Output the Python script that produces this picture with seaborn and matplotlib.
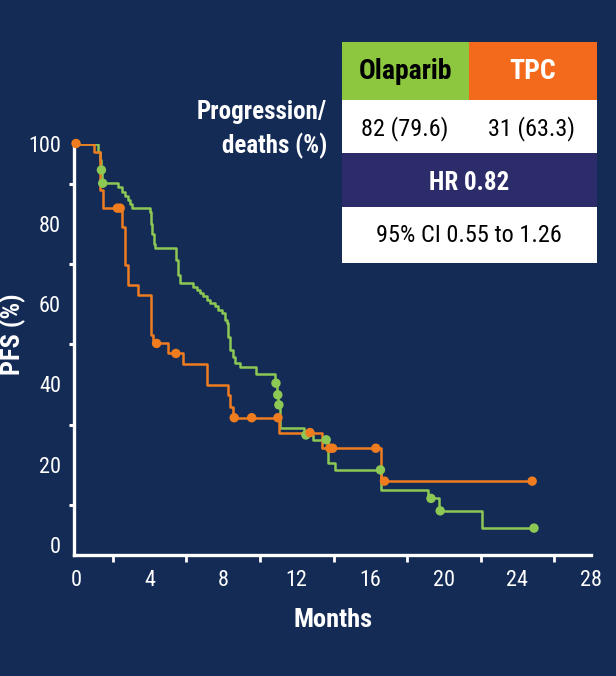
import numpy as np
import pandas as pd
import matplotlib
matplotlib.use("Agg")
import matplotlib.pyplot as plt
from matplotlib import font_manager
from matplotlib.patches import Rectangle
from matplotlib.ticker import MultipleLocator
import seaborn as sns

# ---------------- data ----------------
arms = ["Olaparib", "TPC"]
ola_months = [0, 1.2, 1.3, 1.35, 1.42, 2.3, 2.5, 2.65, 2.8, 2.95, 3.05, 4.02, 4.1, 4.15, 4.25, 4.3,
              5.45, 5.55, 5.65, 6.38, 6.56, 6.74, 6.92, 7.1, 7.28, 7.55, 7.74, 7.92, 8.1, 8.19, 8.28,
              8.37, 8.55, 8.64, 8.9, 9.8, 10.84, 10.93, 11.0, 11.08, 12.4, 12.9, 13.7, 14.08, 16.6,
              19.15, 19.72, 22.1, 24.9]
ola_pfs = [100, 98, 96, 93.4, 90.1, 89.1, 88.0, 86.9, 85.9, 84.9, 83.9, 82.9, 80.0, 77.5, 75.0, 73.9,
           71.0, 67.2, 65.2, 64.3, 63.5, 62.7, 61.9, 61.0, 60.2, 59.4, 58.5, 57.7, 56.0, 55.2, 51.9,
           48.6, 46.9, 45.3, 44.4, 42.5, 40.3, 37.4, 34.9, 29.1, 27.4, 26.2, 20.3, 18.7, 13.7,
           11.6, 8.5, 4.2, 4.2]
ola_cens_months = [1.38, 1.45, 10.87, 10.97, 11.03, 12.5, 13.6, 16.55, 19.3, 19.8, 24.9]
ola_cens_pfs = [93.4, 90.1, 40.3, 37.4, 34.9, 27.4, 26.2, 18.7, 11.6, 8.5, 4.2]

tpc_months = [0, 0.95, 1.3, 1.45, 2.48, 2.66, 2.84, 3.39, 4.06, 4.2, 5.02, 5.8, 7.1, 8.24, 8.37,
              8.51, 11.05, 13.35, 16.6, 24.8]
tpc_pfs = [100, 98, 88.4, 83.9, 79.3, 69.7, 64.7, 62.3, 52.3, 50.2, 47.7, 45.2, 39.8, 37.4, 34.4,
           31.7, 28.0, 24.1, 15.9, 15.9]
tpc_cens_months = [0, 2.25, 2.4, 4.38, 5.43, 8.6, 9.55, 10.98, 12.72, 13.8, 13.95, 16.3, 16.77, 24.8]
tpc_cens_pfs = [100, 83.9, 83.9, 50.2, 47.7, 31.7, 31.7, 31.7, 28.0, 24.1, 24.1, 24.1, 15.9, 15.9]

x_ticks = [0, 4, 8, 12, 16, 20, 24, 28]
y_ticks = [0, 20, 40, 60, 80, 100]

table_header = ["Olaparib", "TPC"]
table_events = ["82 (79.6)", "31 (63.3)"]
table_hr = "HR 0.82"
table_ci = "95% CI 0.55 to 1.26"
row_label = "Progression/\ndeaths (%)"

# ---------------- style ----------------
BG = "#132B55"
GREEN_LINE = "#8DC855"
ORANGE_LINE = "#F07C20"
GREEN_HEAD = "#8DC63F"
ORANGE_HEAD = "#F36A1C"
HR_ROW = "#2D2C6A"

sns.set_theme(style="white")
names = {f.name for f in font_manager.fontManager.ttflist}
FONT = None
for cand in ["Liberation Sans Narrow", "Arial Narrow", "Roboto Condensed", "Open Sans Condensed",
             "Liberation Sans"]:
    if cand in names:
        FONT = cand
        break
if FONT is None:
    FONT = "DejaVu Sans"
plt.rcParams["font.family"] = [FONT, "DejaVu Sans"]

W, H = 616, 676
fig = plt.figure(figsize=(W / 100, H / 100), dpi=100, facecolor=BG)

# axes placement (pixel-based)
ax_left, ax_right, ax_top, ax_bot = 74.2, 591.0, 143.5, 555.0
ax = fig.add_axes([ax_left / W, 1 - ax_bot / H, (ax_right - ax_left) / W, (ax_bot - ax_top) / H])
ax.set_facecolor(BG)

df_lines = pd.concat([
    pd.DataFrame({"month": ola_months, "pfs": ola_pfs, "arm": arms[0]}),
    pd.DataFrame({"month": tpc_months, "pfs": tpc_pfs, "arm": arms[1]}),
], ignore_index=True)
df_cens = pd.concat([
    pd.DataFrame({"month": ola_cens_months, "pfs": ola_cens_pfs, "arm": arms[0]}),
    pd.DataFrame({"month": tpc_cens_months, "pfs": tpc_cens_pfs, "arm": arms[1]}),
], ignore_index=True)

pal = {arms[0]: GREEN_LINE, arms[1]: ORANGE_LINE}
sns.lineplot(data=df_lines, x="month", y="pfs", hue="arm", palette=pal, estimator=None,
             sort=False, drawstyle="steps-post", linewidth=1.8, legend=False, ax=ax)
sns.scatterplot(data=df_cens, x="month", y="pfs", hue="arm", palette=pal, s=46,
                edgecolor="none", legend=False, ax=ax, clip_on=False, zorder=5)
for coll in ax.collections:
    coll.set_clip_on(False)

ax.set_xlim(-0.1, 28)
ax.set_ylim(-2.5, 100)
ax.set_xticks(x_ticks)
ax.set_yticks(y_ticks)
ax.xaxis.set_minor_locator(MultipleLocator(2))
ax.yaxis.set_minor_locator(MultipleLocator(10))
for s in ["top", "right"]:
    ax.spines[s].set_visible(False)
for s in ["left", "bottom"]:
    ax.spines[s].set_color("white")
    ax.spines[s].set_linewidth(2.4)
ax.tick_params(axis="both", which="both", colors="white", direction="out")
ax.tick_params(axis="x", which="both", length=5, width=2.0, pad=6, labelsize=16)
ax.tick_params(axis="y", which="both", length=3.5, width=2.2, pad=6, labelsize=16)
ax.tick_params(axis="x", which="minor", bottom=True)
ax.tick_params(axis="y", which="minor", left=True)
for lab in ax.get_xticklabels() + ax.get_yticklabels():
    lab.set_color("white")

ax.set_xlabel("")
ax.set_ylabel("")
fig.text(333 / W, 1 - 620 / H, "Months", color="white", fontsize=19, fontweight="bold",
         ha="center", va="center")
fig.text(12.5 / W, 1 - 334 / H, "PFS (%)", rotation=90, color="white", fontsize=19,
         fontweight="bold", ha="center", va="center")

# ---------------- table ----------------
def rect(x0, y0, x1, y1, color):
    fig.add_artist(Rectangle((x0 / W, 1 - y1 / H), (x1 - x0) / W, (y1 - y0) / H,
                             transform=fig.transFigure, facecolor=color, edgecolor="none"))

def txt(x, y, s, color, weight="normal", size=17, ha="center"):
    fig.text(x / W, 1 - y / H, s, color=color, fontsize=size, fontweight=weight, ha=ha,
             va="center")

tx0, tmid, tx1 = 341.7, 469.3, 596.7
r0, r1, r2, r3, r4 = 41.7, 100.0, 153.3, 206.7, 262.7
rect(tx0, r0, tmid, r1, GREEN_HEAD)
rect(tmid, r0, tx1, r1, ORANGE_HEAD)
rect(tx0, r1, tx1, r2, "white")
rect(tx0, r2, tx1, r3, HR_ROW)
rect(tx0, r3, tx1, r4, "white")

txt(405.5, 71.7, table_header[0], "black", "bold", 20)
txt(533.0, 71.7, table_header[1], "white", "bold", 20)
txt(405.0, 129.0, table_events[0], "black", "normal", 17.5)
txt(532.0, 129.0, table_events[1], "black", "normal", 17.5)
txt(469.3, 182.5, table_hr, "white", "bold", 18)
txt(469.3, 236.0, table_ci, "black", "normal", 17.5)

lines = row_label.split("\n")
txt(327, 111.5, lines[0], "white", "bold", 18, ha="right")
txt(327, 145.5, lines[1], "white", "bold", 18, ha="right")

fig.savefig("out.png", dpi=100, facecolor=BG)
